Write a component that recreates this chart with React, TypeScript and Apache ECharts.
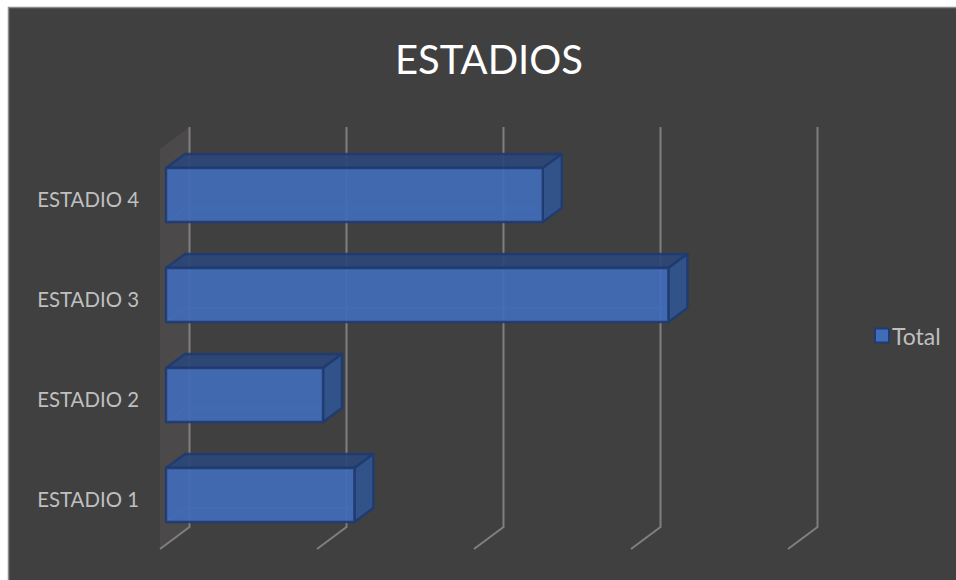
import React, { useEffect, useRef } from "react";
import * as echarts from "echarts";

const categories = ["ESTADIO 1", "ESTADIO 2", "ESTADIO 3", "ESTADIO 4"];
const totals = [6, 5, 16, 12];
const axisTicks = [0, 5, 10, 15, 20];

const FONT = "Lato, 'Open Sans', sans-serif";

// Oblique projection used for the 3D look
const WALL_DX = 29.5;
const WALL_DY = -22;
const BAR_INSET = 6;
const BAR_DX = 19;
const BAR_DY = -14;
const BAR_ABOVE = 31;
const BAR_BELOW = 23;

const renderWall = (params: any, api: any) => {
  const cs = params.coordSys;
  const bottom = cs.y + cs.height;
  const x = api.coord([api.value(0), 0])[0];
  const children: any[] = [];
  if (params.dataIndex === 0) {
    children.push({
      type: "polygon",
      shape: {
        points: [
          [x, cs.y],
          [x + WALL_DX, cs.y + WALL_DY],
          [x + WALL_DX, bottom + WALL_DY],
          [x, bottom],
        ],
      },
      style: { fill: "#4b4949", stroke: "none" },
    });
  }
  children.push({
    type: "polyline",
    shape: {
      points: [
        [x + WALL_DX, cs.y + WALL_DY],
        [x + WALL_DX, bottom + WALL_DY],
        [x, bottom],
      ],
    },
    style: { fill: "none", stroke: "#7f7f7f", lineWidth: 2 },
  });
  return { type: "group", children };
};

const renderBar = (_params: any, api: any) => {
  const left = api.coord([0, api.value(1)])[0] + BAR_INSET;
  const end = api.coord([api.value(0), api.value(1)]);
  const right = end[0] + BAR_INSET;
  const top = end[1] - BAR_ABOVE;
  const bot = end[1] + BAR_BELOW;
  const edge = "#1f3b70";
  const poly = (points: number[][], fill: string, opacity = 1) => ({
    type: "polygon",
    shape: { points },
    style: { fill, stroke: edge, lineWidth: 2.4, lineJoin: "round", opacity },
  });
  return {
    type: "group",
    children: [
      // top and side faces stay see-through so the wall lines show faintly
      poly(
        [
          [left, top],
          [left + BAR_DX, top + BAR_DY],
          [right + BAR_DX, top + BAR_DY],
          [right, top],
        ],
        "#2b4778",
        0.92
      ),
      poly(
        [
          [right, top],
          [right + BAR_DX, top + BAR_DY],
          [right + BAR_DX, bot + BAR_DY],
          [right, bot],
        ],
        "#32538e",
        0.95
      ),
      // hidden back edges seen through the front face
      {
        type: "polyline",
        shape: {
          points: [
            [left, bot],
            [left + BAR_DX, bot + BAR_DY],
            [right, bot + BAR_DY],
          ],
        },
        style: { fill: "none", stroke: "#3f68b5", lineWidth: 1.5 },
      },
      poly(
        [
          [left, top],
          [right, top],
          [right, bot],
          [left, bot],
        ],
        "#416db8",
        0.92
      ),
    ],
  };
};

export default function App() {
  const ref = useRef<HTMLDivElement>(null);

  useEffect(() => {
    const chart = echarts.init(ref.current!, undefined, { renderer: "svg" });
    chart.setOption({
      animation: false,
      backgroundColor: "#ffffff",
      graphic: [
        {
          type: "rect",
          z: -1,
          shape: { x: 8.5, y: 7.5, width: 970, height: 600 },
          style: { fill: "#404040", stroke: "#8c8c8c", lineWidth: 1.5 },
        },
      ],
      title: {
        text: "ESTADIOS",
        left: 395,
        top: 39,
        textStyle: {
          color: "#ffffff",
          fontFamily: FONT,
          fontWeight: "normal",
          fontSize: 40,
        },
        padding: 0,
      },
      legend: {
        left: 874,
        top: 324,
        orient: "vertical",
        itemWidth: 14,
        itemHeight: 14,
        itemGap: 0,
        padding: 0,
        data: [
          {
            name: "Total",
            icon: "rect",
            itemStyle: { color: "#416db8", borderColor: "#1f3b70", borderWidth: 2 },
          },
        ],
        textStyle: { color: "#bfbfbf", fontFamily: FONT, fontSize: 23, padding: [0, 0, 0, -2] },
      },
      grid: { left: 160, top: 149, width: 628, height: 400 },
      xAxis: {
        type: "value",
        min: 0,
        max: 20,
        interval: 5,
        axisLabel: { show: false },
        axisLine: { show: false },
        axisTick: { show: false },
        splitLine: { show: false },
      },
      yAxis: {
        type: "category",
        data: categories,
        axisLine: { show: false },
        axisTick: { show: false },
        axisLabel: {
          color: "#bfbfbf",
          fontFamily: FONT,
          fontSize: 20.4,
          margin: 21,
        },
      },
      series: [
        {
          name: "Paredes",
          type: "custom",
          coordinateSystem: "cartesian2d",
          renderItem: renderWall,
          clip: false,
          silent: true,
          z: 1,
          encode: { x: 0 },
          data: axisTicks.map((t) => [t]),
        },
        {
          name: "Total",
          type: "custom",
          coordinateSystem: "cartesian2d",
          renderItem: renderBar,
          clip: false,
          z: 2,
          encode: { x: 0, y: 1 },
          itemStyle: { color: "#416db8" },
          data: totals.map((v, i) => [v, i]),
        },
      ],
    });
    return () => chart.dispose();
  }, []);

  return (
    <div
      ref={ref}
      style={{ position: "fixed", left: 0, top: 0, width: 956, height: 580 }}
    />
  );
}
